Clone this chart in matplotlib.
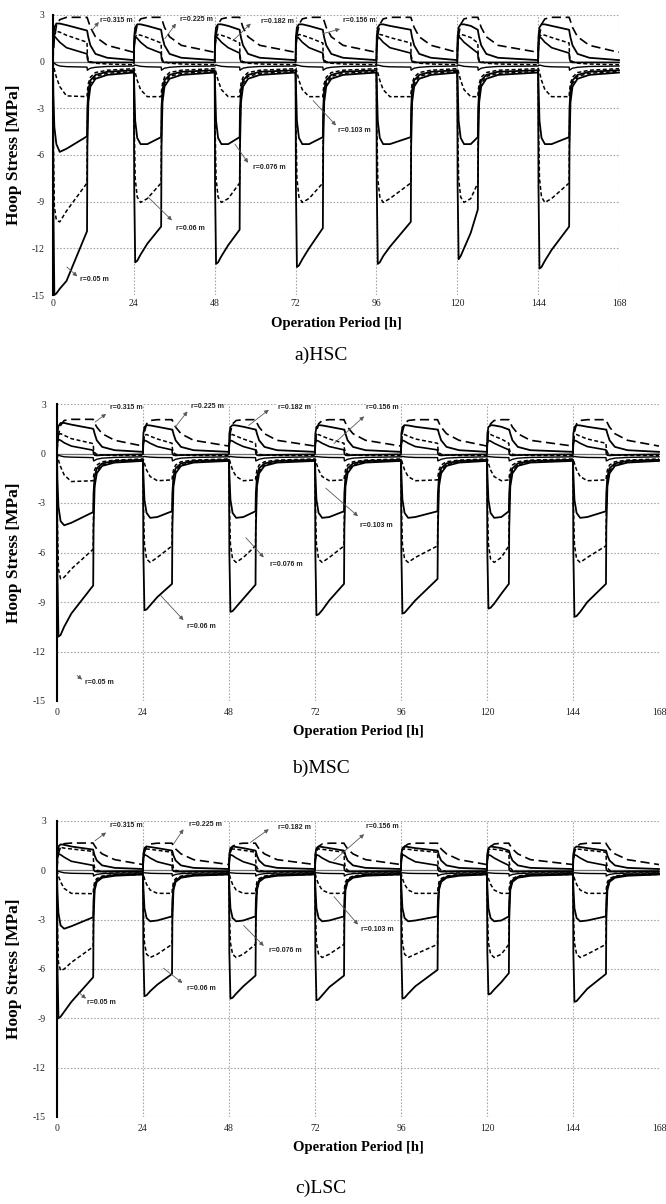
import matplotlib
matplotlib.use('Agg')
import matplotlib.pyplot as plt

plt.rcParams['font.family'] = ['Liberation Serif', 'DejaVu Serif']
plt.rcParams['axes.unicode_minus'] = False

# axis ticks
X_TICKS = [0, 24, 48, 72, 96, 120, 144, 168]
Y_TICKS = [3, 0, -3, -6, -9, -12, -15]

# hours of operation (heating) in each of the 7 days
HOURS_ON = [10.1, 8.1, 7.4, 8.1, 10.2, 6.1, 9.2]
# sample times (h after the day starts) during heating; last sample is at HOURS_ON
HEAT_T = [0.0, 0.1, 0.4, 1.0, 2.0, 4.0]
# sample times (h after heating stops); last sample is at the end of the day
REC_T = [0.1, 0.4, 1.0, 2.5, 6.0]

CURVES = ['r050', 'r060', 'r076', 'r103', 'r130', 'r156', 'r182', 'r225', 'r315']
LABELS = ['r=0.05 m', 'r=0.06 m', 'r=0.076 m', 'r=0.103 m',
          'r=0.156 m', 'r=0.182 m', 'r=0.225 m', 'r=0.315 m']
CAPTIONS = ['a)HSC', 'b)MSC', 'c)LSC']

# ---------------- a) HSC ----------------
HSC_R050_HEAT = [
    [0.0, -9.0, -15.0, -14.9, -14.6, -14.1, -10.9],
    [-0.7, -8.0, -12.9, -12.8, -12.4, -11.7, -10.6],
    [-0.7, -8.0, -13.0, -12.9, -12.5, -11.8, -10.8],
    [-0.7, -8.0, -13.2, -13.1, -12.7, -12.0, -10.7],
    [-0.7, -8.0, -13.0, -12.9, -12.5, -11.9, -10.3],
    [-0.7, -8.0, -12.7, -12.5, -12.0, -11.0, -9.5],
    [-0.7, -8.0, -13.3, -13.2, -12.8, -12.1, -10.6],
]
HSC_R050_REC = [-5.5, -2.6, -1.6, -1.1, -0.85, -0.7]
HSC_R060_HEAT = [[0.0, -5.0, -9.3, -10.2, -10.3, -9.6, -7.8],
                 [-0.63, -4.0, -7.5, -8.7, -9.05, -8.8, -7.8]]
HSC_R060_REC = [-4.0, -2.2, -1.4, -0.95, -0.75, -0.63]
HSC_R076_HEAT = [[0.0, -2.0, -4.2, -5.3, -5.8, -5.6, -4.8],
                 [-0.55, -1.5, -3.8, -4.9, -5.3, -5.3, -4.85]]
HSC_R076_REC = [-3.0, -1.8, -1.2, -0.85, -0.65, -0.55]
HSC_R103_HEAT = [[0.0, -0.15, -0.5, -1.0, -1.6, -2.2, -2.25],
                 [-0.45, -0.45, -0.7, -1.2, -1.8, -2.25, -2.25]]
HSC_R103_REC = [-1.9, -1.4, -1.0, -0.7, -0.55, -0.45]
HSC_R130_HEAT = [[0.0, -0.05, -0.1, -0.2, -0.28, -0.32, -0.35],
                 [-0.28, -0.25, -0.22, -0.25, -0.3, -0.33, -0.35]]
HSC_R130_REC = [-0.55, -0.5, -0.42, -0.36, -0.31, -0.28]
HSC_R156_HEAT = [[0.0, 1.2, 1.65, 1.5, 1.25, 0.9, 0.5],
                 [-0.05, 1.2, 1.6, 1.5, 1.25, 0.9, 0.55]]
HSC_R156_REC = [0.2, 0.0, -0.05, -0.05, -0.05, -0.05]
HSC_R182_HEAT = [[0.0, 1.0, 1.7, 1.95, 1.9, 1.7, 1.25],
                 [-0.2, 1.0, 1.6, 1.75, 1.7, 1.55, 1.2]]
HSC_R182_REC = [0.4, 0.1, 0.0, -0.1, -0.15, -0.2]
HSC_R225_HEAT = [[0.0, 1.6, 2.2, 2.45, 2.45, 2.35, 2.0],
                 [0.1, 1.6, 2.2, 2.4, 2.4, 2.3, 2.05]]
HSC_R225_REC = [1.9, 1.55, 1.05, 0.5, 0.25, 0.1]
HSC_R315_HEAT = [[0.0, 0.6, 1.5, 2.3, 2.7, 2.85, 2.85],
                 [0.6, 0.9, 1.7, 2.4, 2.75, 2.85, 2.85]]
HSC_R315_REC = [2.8, 2.6, 2.2, 1.6, 1.05, 0.6]

# ---------------- b) MSC ----------------
MSC_R050_HEAT = [
    [0.0, -7.0, -11.1, -11.0, -10.5, -9.7, -8.0],
    [-0.45, -6.0, -9.5, -9.45, -9.2, -8.7, -7.9],
    [-0.45, -6.0, -9.6, -9.55, -9.3, -8.8, -7.95],
    [-0.45, -6.0, -9.8, -9.75, -9.5, -8.9, -7.9],
    [-0.45, -6.0, -9.7, -9.65, -9.4, -8.9, -7.6],
    [-0.45, -6.0, -9.4, -9.35, -9.1, -8.5, -7.9],
    [-0.45, -6.0, -9.9, -9.85, -9.6, -9.0, -7.9],
]
MSC_R050_REC = [-4.5, -2.0, -1.2, -0.75, -0.55, -0.45]
MSC_R060_HEAT = [[0.0, -4.0, -7.0, -7.6, -7.5, -7.0, -5.8],
                 [-0.42, -3.0, -5.5, -6.4, -6.6, -6.3, -5.6]]
MSC_R060_REC = [-3.2, -1.7, -1.05, -0.7, -0.5, -0.42]
MSC_R076_HEAT = [[0.0, -1.5, -3.2, -4.1, -4.35, -4.2, -3.55],
                 [-0.38, -1.2, -2.8, -3.6, -3.9, -3.85, -3.5]]
MSC_R076_REC = [-2.4, -1.4, -0.9, -0.6, -0.45, -0.38]
MSC_R103_HEAT = [[0.0, -0.1, -0.4, -0.8, -1.3, -1.7, -1.65],
                 [-0.33, -0.35, -0.6, -1.0, -1.4, -1.65, -1.6]]
MSC_R103_REC = [-1.4, -1.0, -0.7, -0.5, -0.4, -0.33]
MSC_R130_HEAT = [[0.0, -0.05, -0.1, -0.15, -0.2, -0.22, -0.25],
                 [-0.2, -0.2, -0.18, -0.2, -0.22, -0.24, -0.25]]
MSC_R130_REC = [-0.45, -0.42, -0.35, -0.28, -0.24, -0.2]
MSC_R156_HEAT = [[0.0, 0.6, 0.85, 0.8, 0.65, 0.45, 0.2],
                 [-0.05, 0.6, 0.8, 0.75, 0.62, 0.42, 0.22]]
MSC_R156_REC = [0.0, -0.1, -0.12, -0.1, -0.08, -0.05]
MSC_R182_HEAT = [[0.0, 0.7, 1.15, 1.2, 1.1, 0.9, 0.6],
                 [-0.12, 0.7, 1.1, 1.15, 1.05, 0.88, 0.62]]
MSC_R182_REC = [0.3, 0.05, -0.05, -0.1, -0.12, -0.12]
MSC_R225_HEAT = [[0.0, 1.2, 1.65, 1.85, 1.85, 1.75, 1.5],
                 [0.1, 1.2, 1.6, 1.72, 1.7, 1.62, 1.45]]
MSC_R225_REC = [1.45, 1.2, 0.8, 0.4, 0.2, 0.1]
MSC_R315_HEAT = [[0.0, 0.4, 1.1, 1.7, 2.0, 2.07, 2.07],
                 [0.45, 0.7, 1.3, 1.8, 2.0, 2.05, 2.05]]
MSC_R315_REC = [2.0, 1.85, 1.6, 1.2, 0.8, 0.45]

# ---------------- c) LSC ----------------
LSC_R050_HEAT = [
    [0.0, -5.5, -9.0, -8.9, -8.6, -8.0, -6.5],
    [-0.25, -5.0, -7.65, -7.6, -7.35, -6.95, -6.3],
    [-0.25, -5.0, -7.8, -7.75, -7.5, -7.05, -6.4],
    [-0.25, -5.0, -7.9, -7.85, -7.6, -7.1, -6.4],
    [-0.25, -5.0, -7.8, -7.75, -7.5, -7.05, -6.05],
    [-0.25, -5.0, -7.55, -7.5, -7.25, -6.8, -6.25],
    [-0.25, -5.0, -8.0, -7.95, -7.7, -7.2, -6.3],
]
LSC_R050_REC = [-3.0, -1.2, -0.7, -0.45, -0.33, -0.25]
LSC_R060_HEAT = [[0.0, -3.2, -5.6, -6.1, -6.0, -5.6, -4.65],
                 [-0.25, -2.5, -4.4, -5.1, -5.3, -5.1, -4.5]]
LSC_R060_REC = [-2.3, -1.1, -0.65, -0.42, -0.3, -0.25]
LSC_R076_HEAT = [[0.0, -1.2, -2.6, -3.35, -3.55, -3.4, -2.85],
                 [-0.22, -1.0, -2.3, -2.9, -3.1, -3.05, -2.8]]
LSC_R076_REC = [-1.8, -0.95, -0.6, -0.4, -0.28, -0.22]
LSC_R103_HEAT = [[0.0, -0.1, -0.35, -0.7, -1.1, -1.4, -1.42],
                 [-0.2, -0.25, -0.5, -0.85, -1.2, -1.4, -1.4]]
LSC_R103_REC = [-1.1, -0.7, -0.5, -0.35, -0.25, -0.2]
LSC_R130_HEAT = [[0.0, -0.03, -0.06, -0.1, -0.15, -0.18, -0.2],
                 [-0.15, -0.15, -0.15, -0.16, -0.18, -0.19, -0.2]]
LSC_R130_REC = [-0.35, -0.3, -0.25, -0.2, -0.17, -0.15]
LSC_R156_HEAT = [[0.0, 0.7, 1.0, 0.95, 0.8, 0.55, 0.3],
                 [-0.05, 0.7, 0.95, 0.9, 0.75, 0.52, 0.3]]
LSC_R156_REC = [0.05, -0.05, -0.08, -0.08, -0.06, -0.05]
LSC_R182_HEAT = [[0.0, 0.9, 1.35, 1.4, 1.35, 1.3, 1.15],
                 [-0.1, 0.9, 1.25, 1.3, 1.28, 1.22, 1.1]]
LSC_R182_REC = [0.5, 0.15, 0.0, -0.08, -0.1, -0.1]
LSC_R225_HEAT = [[0.0, 1.1, 1.45, 1.58, 1.55, 1.45, 1.26],
                 [0.08, 1.0, 1.35, 1.45, 1.42, 1.35, 1.2]]
LSC_R225_REC = [1.15, 0.9, 0.6, 0.3, 0.15, 0.08]
LSC_R315_HEAT = [[0.0, 0.4, 1.0, 1.45, 1.62, 1.66, 1.66],
                 [0.35, 0.6, 1.1, 1.45, 1.6, 1.65, 1.65]]
LSC_R315_REC = [1.6, 1.5, 1.3, 1.0, 0.65, 0.35]

PANELS = [
    [(HSC_R050_HEAT, HSC_R050_REC), (HSC_R060_HEAT, HSC_R060_REC), (HSC_R076_HEAT, HSC_R076_REC),
     (HSC_R103_HEAT, HSC_R103_REC), (HSC_R130_HEAT, HSC_R130_REC), (HSC_R156_HEAT, HSC_R156_REC),
     (HSC_R182_HEAT, HSC_R182_REC), (HSC_R225_HEAT, HSC_R225_REC), (HSC_R315_HEAT, HSC_R315_REC)],
    [(MSC_R050_HEAT, MSC_R050_REC), (MSC_R060_HEAT, MSC_R060_REC), (MSC_R076_HEAT, MSC_R076_REC),
     (MSC_R103_HEAT, MSC_R103_REC), (MSC_R130_HEAT, MSC_R130_REC), (MSC_R156_HEAT, MSC_R156_REC),
     (MSC_R182_HEAT, MSC_R182_REC), (MSC_R225_HEAT, MSC_R225_REC), (MSC_R315_HEAT, MSC_R315_REC)],
    [(LSC_R050_HEAT, LSC_R050_REC), (LSC_R060_HEAT, LSC_R060_REC), (LSC_R076_HEAT, LSC_R076_REC),
     (LSC_R103_HEAT, LSC_R103_REC), (LSC_R130_HEAT, LSC_R130_REC), (LSC_R156_HEAT, LSC_R156_REC),
     (LSC_R182_HEAT, LSC_R182_REC), (LSC_R225_HEAT, LSC_R225_REC), (LSC_R315_HEAT, LSC_R315_REC)],
]

# line look for each curve
SHORT = (0, (2.6, 1.6))
LONG = (0, (5.5, 2.8))
STYLES = {
    'r050': dict(ls='-', lw=1.3), 'r060': dict(ls=SHORT, lw=1.1),
    'r076': dict(ls='-', lw=1.3), 'r103': dict(ls=SHORT, lw=1.1),
    'r130': dict(ls='-', lw=1.0), 'r156': dict(ls='-', lw=1.2),
    'r182': dict(ls=SHORT, lw=1.1), 'r225': dict(ls='-', lw=1.3),
    'r315': dict(ls=LONG, lw=1.2),
}

# annotation layout per panel: (text pos, arrow tail on curve, arrow head near text)
ANNOT = [
    [((8.0, -14.0), (4.1, -13.2), (7.2, -13.8)),
     ((36.5, -10.7), (28.2, -8.7), (35.3, -10.2)),
     ((59.4, -6.8), (54.0, -5.3), (57.9, -6.5)),
     ((84.6, -4.4), (77.2, -2.5), (84.0, -4.1)),
     ((86.0, 2.63), (80.1, 1.8), (85.2, 2.1)),
     ((61.7, 2.57), (53.4, 1.35), (58.7, 2.45)),
     ((37.7, 2.7), (33.2, 1.48), (36.5, 2.45)),
     ((13.9, 2.63), (11.5, 2.0), (13.6, 2.55))],
    [((7.8, -13.9), (5.6, -13.45), (7.0, -13.7)),
     ((36.4, -10.5), (28.9, -8.6), (35.3, -10.1)),
     ((59.4, -6.7), (52.7, -5.1), (57.7, -6.3)),
     ((84.6, -4.35), (75.0, -2.1), (84.0, -3.8)),
     ((86.3, 2.8), (77.3, 0.6), (85.7, 2.25)),
     ((61.6, 2.8), (53.5, 1.7), (59.1, 2.65)),
     ((37.3, 2.85), (33.0, 1.6), (36.4, 2.55)),
     ((14.8, 2.8), (10.6, 1.9), (13.7, 2.4))],
    [((8.4, -8.06), (5.9, -7.4), (8.1, -7.8)),
     ((36.4, -7.2), (29.7, -5.95), (35.0, -6.85)),
     ((59.1, -4.85), (52.1, -3.35), (57.7, -4.6)),
     ((84.9, -3.6), (77.3, -1.6), (84.0, -3.3)),
     ((86.3, 2.65), (77.3, 0.6), (85.7, 2.2)),
     ((61.6, 2.6), (54.0, 1.7), (59.1, 2.5)),
     ((36.7, 2.8), (32.5, 1.6), (35.3, 2.5)),
     ((14.8, 2.7), (10.6, 1.8), (13.7, 2.3))],
]

W, H = 666, 1204
# axes boxes in pixels: left, top, right, bottom
BOXES = [(53, 15, 619, 295), (57, 404, 659, 701), (57, 821, 659, 1117)]
XLAB_Y = [323, 731, 1148]
CAP_Y = [355, 768, 1188]
TICK_PAD = [3, 5, 5]


def build(heat_rows, rec):
    if len(heat_rows) == 2:
        heat_rows = [heat_rows[0]] + [heat_rows[1]] * 6
    t, v = [], []
    for d, on in enumerate(HOURS_ON):
        t0 = 24 * d
        t += [t0 + h for h in HEAT_T] + [t0 + on]
        v += heat_rows[d]
        t += [t0 + on + h for h in REC_T] + [t0 + 24]
        v += rec
    return t, v


fig = plt.figure(figsize=(W / 100, H / 100), dpi=100)

for p in range(3):
    l, tp, r, b = BOXES[p]
    ax = fig.add_axes([l / W, 1 - b / H, (r - l) / W, (b - tp) / H])
    ax.set_xlim(0, 168)
    ax.set_ylim(-15, 3)
    ax.set_xticks(X_TICKS)
    ax.set_yticks(Y_TICKS)
    ax.tick_params(length=0, labelsize=7, colors='#222222')
    ax.tick_params(axis='x', pad=TICK_PAD[p])
    ax.tick_params(axis='y', pad=6 if p == 0 else 8)
    ax.grid(True, ls=(0, (1.5, 1.5)), color='#a8a8a8', lw=0.8)
    for s in ['top', 'right', 'bottom']:
        ax.spines[s].set_visible(False)
    ax.spines['left'].set_linewidth(1.5)
    ax.axhline(0, color='0.45', lw=0.9, zorder=2)

    for name, (heat, rec) in zip(CURVES, PANELS[p]):
        t, v = build(heat, rec)
        ax.plot(t, v, color='black', zorder=3, clip_on=False, **STYLES[name])

    for label, (txy, tail, head) in zip(LABELS, ANNOT[p]):
        ax.annotate('', xy=head, xytext=tail,
                    arrowprops=dict(arrowstyle='-|>', color='0.35', lw=0.6,
                                    mutation_scale=6, shrinkA=0, shrinkB=0), zorder=4)
        ax.text(txy[0], txy[1], label, fontsize=5, fontweight='bold',
                family=['Liberation Sans Narrow', 'Liberation Sans'],
                ha='left', va='center', color='#222222', zorder=5,
                bbox=dict(fc='white', ec='none', pad=0.3))

    ax.set_ylabel('Hoop Stress [MPa]', fontsize=12.5, fontweight='bold')
    ax.yaxis.set_label_coords((22 - l) / (r - l), 0.5)
    ax.set_xlabel('Operation Period [h]', fontsize=10.5, fontweight='bold', va='center')
    ax.xaxis.set_label_coords(0.5, -(XLAB_Y[p] - b) / (b - tp))

    fig.text(321 / W, 1 - CAP_Y[p] / H, CAPTIONS[p], fontsize=14, ha='center', va='center')

fig.savefig('out.png', dpi=100)
